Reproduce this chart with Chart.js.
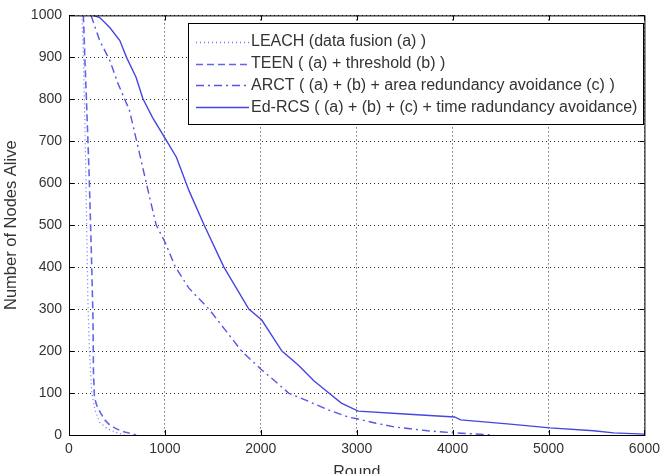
<!DOCTYPE html>
<html>
<head>
<meta charset="utf-8">
<script src="https://cdn.jsdelivr.net/npm/chart.js@4/dist/chart.umd.min.js"></script>
<style>
  html, body { margin: 0; padding: 0; background: #fff; }
  canvas { display: block; }
</style>
</head>
<body>
<canvas id="alive-chart" width="666" height="474"></canvas>
<script>
const seriesNames = [
  'LEACH (data fusion (a) )',
  'TEEN ( (a) + threshold (b) )',
  'ARCT ( (a) + (b) + area redundancy avoidance (c) )',
  'Ed-RCS ( (a) + (b) + (c) + time radundancy avoidance)'
];

const leachRounds = [135, 150, 165, 180, 197, 215, 238, 270, 320, 400, 480, 580];
const leachAlive = [1000, 900, 750, 560, 320, 190, 100, 60, 30, 15, 7, 0];

const teenRounds = [150, 165, 185, 210, 235, 250, 255, 265, 290, 330, 373, 420, 477, 530, 580, 640, 700];
const teenAlive = [1000, 900, 780, 620, 420, 280, 150, 90, 70, 52, 36, 25, 17, 11, 7, 4, 0];

const arctRounds = [230, 320, 425, 510, 630, 735, 840, 910, 1000, 1110, 1250, 1460, 1630, 1800, 2010, 2150, 2290, 2500, 2700, 2910, 3015, 3200, 3400, 3740, 4020, 4430];
const arctAlive = [1000, 940, 893, 838, 774, 671, 567, 500, 460, 400, 350, 300, 250, 200, 155, 128, 100, 80, 60, 43, 38, 28, 19, 10, 5, 0];

const edrcsRounds = [250, 320, 425, 530, 600, 700, 770, 870, 1015, 1120, 1250, 1410, 1615, 1875, 2010, 2220, 2390, 2550, 2700, 2840, 3015, 3500, 4020, 4085, 4600, 5015, 5470, 5680, 6000];
const edrcsAlive = [1000, 995, 971, 940, 900, 852, 802, 757, 702, 662, 583, 500, 400, 300, 274, 200, 167, 130, 102, 76, 57, 50, 43, 36, 26, 17, 10, 5, 2];

const xTicks = [0, 1000, 2000, 3000, 4000, 5000, 6000];
const yTicks = [0, 100, 200, 300, 400, 500, 600, 700, 800, 900, 1000];

const toPoints = (xs, ys) => xs.map((x, i) => ({ x, y: ys[i] }));
const FONT = "'Liberation Sans', Arial, sans-serif";

// matlab-ish box, inward ticks and an inside legend
const matlabFrame = {
  id: 'matlabFrame',
  afterDraw(chart) {
    const { ctx, chartArea: a, scales } = chart;
    ctx.save();
    ctx.strokeStyle = '#000';
    ctx.lineWidth = 1;
    ctx.strokeRect(a.left + 0.5, a.top + 0.5, a.right - a.left, a.bottom - a.top);
    ctx.beginPath();
    xTicks.forEach(v => {
      const px = Math.round(scales.x.getPixelForValue(v)) + 0.5;
      ctx.moveTo(px, a.bottom); ctx.lineTo(px, a.bottom - 5);
      ctx.moveTo(px, a.top); ctx.lineTo(px, a.top + 5);
    });
    yTicks.forEach(v => {
      const py = Math.round(scales.y.getPixelForValue(v)) + 0.5;
      ctx.moveTo(a.left, py); ctx.lineTo(a.left + 5, py);
      ctx.moveTo(a.right, py); ctx.lineTo(a.right - 5, py);
    });
    ctx.stroke();

    // legend
    const lx = 188, ly = 23, lw = 455, lh = 101;
    ctx.fillStyle = '#fff';
    ctx.fillRect(lx, ly, lw, lh);
    ctx.strokeRect(lx + 0.5, ly + 0.5, lw, lh);
    ctx.font = '16px ' + FONT;
    ctx.textBaseline = 'middle';
    chart.data.datasets.forEach((ds, i) => {
      const y = ly + 19 + i * 21.7;
      ctx.save();
      ctx.strokeStyle = ds.borderColor;
      ctx.lineWidth = ds.borderWidth;
      ctx.setLineDash(ds.borderDash || []);
      ctx.beginPath();
      ctx.moveTo(196, Math.round(y) + 0.5);
      ctx.lineTo(249, Math.round(y) + 0.5);
      ctx.stroke();
      ctx.restore();
      ctx.fillStyle = '#333';
      ctx.fillText(ds.label, 251, y);
    });
    ctx.restore();
  }
};

new Chart(document.getElementById('alive-chart'), {
  type: 'line',
  data: {
    datasets: [
      {
        label: seriesNames[0],
        data: toPoints(leachRounds, leachAlive),
        borderColor: 'rgb(120,120,240)',
        borderWidth: 1.3,
        borderDash: [1, 3]
      },
      {
        label: seriesNames[1],
        data: toPoints(teenRounds, teenAlive),
        borderColor: 'rgb(100,100,235)',
        borderWidth: 1.6,
        borderDash: [7, 4]
      },
      {
        label: seriesNames[2],
        data: toPoints(arctRounds, arctAlive),
        borderColor: 'rgb(85,85,230)',
        borderWidth: 1.4,
        borderDash: [8, 4, 2, 4]
      },
      {
        label: seriesNames[3],
        data: toPoints(edrcsRounds, edrcsAlive),
        borderColor: 'rgb(70,70,225)',
        borderWidth: 1.4
      }
    ]
  },
  options: {
    responsive: false,
    animation: false,
    devicePixelRatio: 1,
    layout: { padding: { left: 0, top: 15, right: 18, bottom: 0 } },
    elements: { point: { radius: 0 }, line: { tension: 0 } },
    plugins: { legend: { display: false }, tooltip: { enabled: false } },
    scales: {
      x: {
        type: 'linear',
        min: 0,
        max: 6000,
        afterBuildTicks: s => { s.ticks = xTicks.map(value => ({ value })); },
        afterFit: s => { s.height = 39; },
        ticks: { color: '#333', padding: 6, font: { family: FONT, size: 14 }, maxRotation: 0, callback: v => String(v) },
        grid: { color: 'rgba(0,0,0,0.85)', drawTicks: false, lineWidth: 1 },
        border: { display: true, color: '#000', dash: [1, 3] },
        title: {
          display: true,
          text: 'Round',
          color: '#333',
          font: { family: FONT, size: 16, lineHeight: 1 },
          padding: { top: 0, bottom: -7 }
        }
      },
      y: {
        min: 0,
        max: 1000,
        afterBuildTicks: s => { s.ticks = yTicks.map(value => ({ value })); },
        afterFit: s => { s.width = 69; },
        ticks: { color: '#333', padding: 7, font: { family: FONT, size: 14 }, callback: v => String(v) },
        grid: { color: 'rgba(0,0,0,0.85)', drawTicks: false, lineWidth: 1 },
        border: { display: true, color: '#000', dash: [1, 3] },
        title: {
          display: true,
          text: 'Number of Nodes Alive',
          color: '#333',
          font: { family: FONT, size: 16.5, lineHeight: 1 },
          padding: { top: 3, bottom: 0 }
        }
      }
    }
  },
  plugins: [matlabFrame]
});
</script>
</body>
</html>
